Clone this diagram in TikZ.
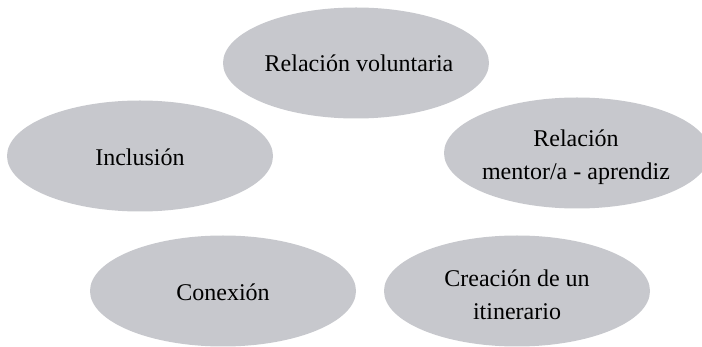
\documentclass[tikz,border=0pt]{standalone}
\usepackage{fontspec}
\setmainfont{Liberation Serif}
\usetikzlibrary{shapes.geometric}
\definecolor{ellgray}{RGB}{199,200,205}
\begin{document}
\begin{tikzpicture}[x=1pt,y=-1pt,
  bubble/.style={ellipse, fill=ellgray, draw=none, inner sep=0pt,
    minimum width=266pt, minimum height=111pt},
  txt/.style={inner sep=0pt, align=center,
    font=\fontsize{24}{33}\selectfont}]
\useasboundingbox (0,0) rectangle (702,347);
\clip (0,0) rectangle (702,347);
\node[bubble] (vol) at (356,63) {};
\node[bubble] (inc) at (140,156) {};
\node[bubble] (men) at (577,153) {};
\node[bubble] (con) at (223,291) {};
\node[bubble] (cre) at (517,291) {};
\node[txt] (voltxt) at (359,63) {Relación voluntaria};
\node[txt] (inctxt) at (140,157) {Inclusión};
\node[txt] (mentxt) at (576,157) {Relación\\mentor/a - aprendiz};
\node[txt] (context) at (223,292) {Conexión};
\node[txt] (cretxt) at (517,295) {Creación de un\\itinerario};
\end{tikzpicture}
\end{document}
